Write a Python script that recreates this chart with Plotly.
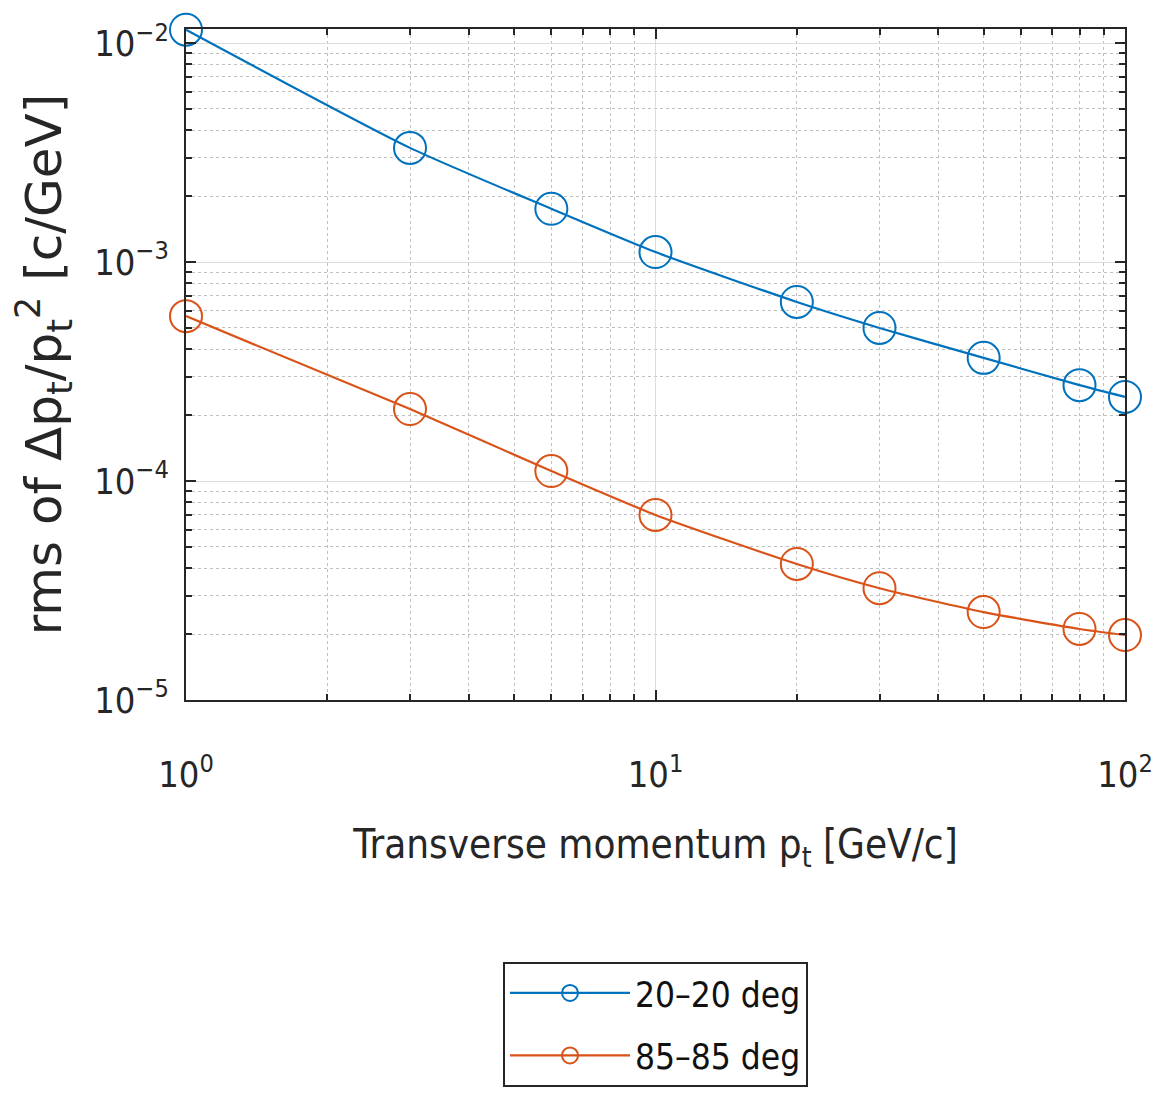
import plotly.graph_objects as go

pt = [1, 3, 6, 10, 20, 30, 50, 80, 100]
rms_20 = [0.0115, 0.00332, 0.00175, 0.00111, 0.000657, 0.000500, 0.000365, 0.000274, 0.000242]
rms_85 = [0.000566, 0.000213, 0.000111, 7.0e-5, 4.18e-5, 3.24e-5, 2.52e-5, 2.11e-5, 1.98e-5]
series_names = ["20\u201320 deg", "85\u201385 deg"]
colors = ["#0072BD", "#D95319"]

x_tickvals = [1, 10, 100]
x_ticktext = ["10<sup>0</sup>", "10<sup>1</sup>", "10<sup>2</sup>"]
y_tickvals = [1e-5, 1e-4, 1e-3, 1e-2]
y_ticktext = ["10<sup>\u22125</sup>", "10<sup>\u22124</sup>", "10<sup>\u22123</sup>", "10<sup>\u22122</sup>"]

NARROW = "DejaVu Sans Condensed, Liberation Sans Narrow, Liberation Sans, sans-serif"

fig = go.Figure()
for name, vals, c in zip(series_names, [rms_20, rms_85], colors):
    fig.add_trace(go.Scatter(
        x=pt, y=vals, name=name, legendgroup=name, mode="lines+markers", cliponaxis=False,
        line=dict(color=c, width=2.2, shape="spline", smoothing=0.6),
        marker=dict(symbol="circle-open", size=32, color=c, line=dict(width=2, color=c)),
    ))

axis_common = dict(
    type="log", showline=True, mirror="ticks", linecolor="#262626", linewidth=2,
    ticks="inside", ticklen=10, tickwidth=2, tickcolor="#262626",
    showgrid=True, gridcolor="#dcdcdc", gridwidth=1, automargin=False,
    tickmode="array",
    tickfont=dict(family=NARROW, size=36, color="#262626"),
    minor=dict(tickmode="linear", dtick="D1", ticks="inside", ticklen=6, tickwidth=1.5,
               tickcolor="#262626", showgrid=True, gridcolor="#c0c0c0", griddash="dot",
               gridwidth=1),
    zeroline=False,
)

fig.update_xaxes(**axis_common, range=[0, 2], tickvals=x_tickvals, ticktext=x_ticktext,
                 ticklabelstandoff=42,
                 title=dict(text="Transverse momentum p<sub>t</sub> [GeV/c]",
                            font=dict(family=NARROW, size=40, color="#262626"), standoff=36))
fig.update_yaxes(**axis_common, range=[-5, -1.936], tickvals=y_tickvals, ticktext=y_ticktext,
                 ticklabelstandoff=8,
                 title=dict(text="rms of \u0394p<sub>t</sub>/p<sub>t</sub><sup>2</sup> [c/GeV]",
                            font=dict(family="DejaVu Sans", size=50, color="#262626"), standoff=30))

fig.update_layout(
    width=1171, height=1099,
    margin=dict(l=178, r=54, t=21, b=407),
    paper_bgcolor="white", plot_bgcolor="white",
    showlegend=True,
    legend=dict(x=0.5, xanchor="center", y=-0.39, yanchor="top",
                bordercolor="#262626", borderwidth=2, bgcolor="white",
                font=dict(family=NARROW, size=35, color="#111111"),
                itemwidth=120, tracegroupgap=14),
)

fig.write_html("out.html")
